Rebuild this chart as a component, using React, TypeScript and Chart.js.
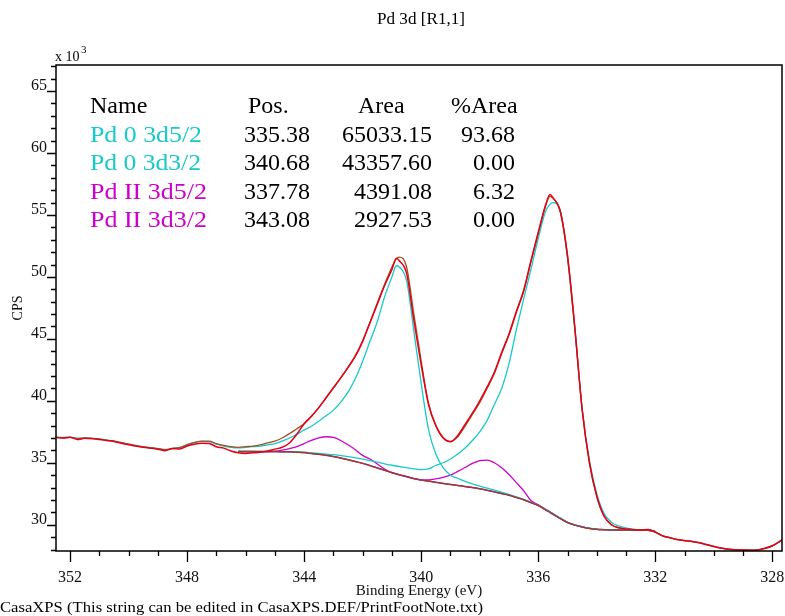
import React, { useEffect, useRef } from "react";
import { Chart, registerables } from "chart.js";

Chart.register(...registerables);

const SERIF = "'Liberation Serif', 'Times New Roman', serif";

// Binding energy grid (eV)
const bindingEnergy = [
  352.5, 352.25, 352, 351.75, 351.5, 351.25, 351, 350.75, 350.5, 350.25, 350, 349.75, 349.5, 349.25, 349, 348.75,
  348.5, 348.25, 348, 347.75, 347.5, 347.25, 347, 346.75, 346.5, 346.25, 346, 345.75, 345.5, 345.25, 345, 344.75,
  344.5, 344.25, 344, 343.75, 343.5, 343.25, 343, 342.75, 342.5, 342.25, 342, 341.75, 341.5, 341.25, 341, 340.85,
  340.75, 340.5, 340.25, 340, 339.75, 339.5, 339.25, 339, 338.75, 338.5, 338.25, 338, 337.75, 337.5, 337.25, 337,
  336.75, 336.5, 336.25, 336, 335.75, 335.6, 335.5, 335.25, 335, 334.75, 334.5, 334.25, 334, 333.75, 333.5, 333.25,
  333, 332.75, 332.5, 332.25, 332, 331.75, 331.5, 331.25, 331, 330.75, 330.5, 330.25, 330, 329.75, 329.5, 329.25,
  329, 328.75, 328.5, 328.25, 328, 327.75, 327.6,
];

// Measured spectrum (CPS x 10^3)
const measuredCps = [
  37.05, 37.0, 37.05, 36.88, 36.97, 36.95, 36.88, 36.8, 36.72, 36.58, 36.45, 36.35, 36.25, 36.18, 36.1, 35.98,
  36.15, 36.12, 36.35, 36.5, 36.58, 36.55, 36.3, 36.18, 35.95, 35.8, 35.75, 35.8, 35.85, 35.95, 36.1, 36.25,
  36.6, 37.3, 38.15, 38.75, 39.45, 40.25, 41.05, 41.85, 42.7, 43.6, 44.8, 46.3, 47.8, 49.3, 50.6, 51.5,
  51.3, 50.3, 46.5, 42.9, 39.7, 38.0, 37.0, 36.7, 37.2, 38.1, 39.0, 40.0, 41.1, 42.3, 43.9, 45.4,
  47.2, 48.9, 51.3, 53.6, 55.8, 56.65, 56.4, 55.3, 51.7, 45.9, 39.3, 35.0, 32.3, 30.7, 30.0, 29.75,
  29.65, 29.6, 29.58, 29.62, 29.4, 29.1, 28.95, 28.8, 28.72, 28.65, 28.55, 28.4, 28.25, 28.12, 28.02, 27.98,
  27.96, 27.94, 27.97, 28.1, 28.3, 28.65, 28.9,
];

// Fit envelope
const envelopeCps = [
  37.05, 37.02, 37.05, 36.95, 36.98, 36.95, 36.9, 36.82, 36.74, 36.62, 36.5, 36.38, 36.28, 36.2, 36.14, 36.05,
  36.15, 36.22, 36.45, 36.62, 36.75, 36.75, 36.55, 36.4, 36.3, 36.25, 36.3, 36.35, 36.45, 36.6, 36.75, 37.0,
  37.35, 37.75, 38.15, 38.75, 39.45, 40.25, 41.05, 41.85, 42.7, 43.65, 44.85, 46.35, 47.9, 49.4, 50.8, 51.45,
  51.6, 50.8, 47.0, 43.2, 39.8, 38.0, 37.05, 36.72, 37.1, 37.95, 38.9, 39.85, 41.0, 42.2, 43.8, 45.3,
  47.1, 48.8, 51.2, 53.5, 55.7, 56.5, 56.35, 55.3, 51.7, 45.9, 39.3, 35.0, 32.3, 30.7, 30.0, 29.75,
  29.65, 29.6, 29.58, 29.6, 29.4, 29.1, 28.95, 28.8, 28.72, 28.65, 28.55, 28.4, 28.25, 28.12, 28.02, 27.98,
  27.96, 27.94, 27.97, 28.1, 28.3, 28.65, 28.9,
];

// Pd 0 3d3/2 component (+ background), drawn over the full range
const pd0d32Cps = [
  37.08, 37.05, 37.07, 36.98, 37.0, 36.97, 36.92, 36.84, 36.76, 36.63, 36.5, 36.4, 36.3, 36.22, 36.15, 36.07,
  36.17, 36.24, 36.47, 36.65, 36.72, 36.7, 36.5, 36.35, 36.25, 36.2, 36.25, 36.3, 36.35, 36.45, 36.55, 36.75,
  37.0, 37.3, 37.65, 37.95, 38.35, 38.8, 39.25, 39.9, 40.7, 41.8, 43.2, 44.8, 46.4, 48.4, 50.0, 50.9,
  50.8, 49.7, 45.6, 41.4, 37.7, 35.7, 34.6, 34.0, 33.75, 33.5, 33.3, 33.12, 32.95, 32.8, 32.62, 32.45,
  32.25, 32.05, 31.8, 31.55, 31.25, 31.05, 30.9, 30.55, 30.2, 29.98, 29.83, 29.72, 29.64, 29.6, 29.58, 29.58,
  29.57, 29.57, 29.57, 29.57, 29.42, 29.1, 28.95, 28.8, 28.72, 28.65, 28.55, 28.4, 28.25, 28.12, 28.02, 27.98,
  27.96, 27.94, 27.97, 28.1, 28.3, 28.65, 28.9,
];

// Fit region (346.25 .. 332 eV)
const regionFrom = 346.25;
const regionTo = 332;

const pd0d52Cps = [
  35.95, 35.93, 35.93, 35.92, 35.91, 35.9, 35.9, 35.88, 35.87, 35.85, 35.8, 35.75, 35.7, 35.65, 35.58, 35.5,
  35.4, 35.3, 35.18, 35.05, 34.92, 34.8, 34.74, 34.7, 34.6, 34.5, 34.45, 34.5, 34.8, 35.0, 35.3, 35.7,
  36.2, 36.8, 37.5, 38.4, 39.7, 41.0, 43.0, 45.7, 48.2, 50.6, 53.1, 55.3, 55.85, 56.0, 55.4, 51.5,
  45.8, 39.4, 35.2, 32.5, 30.9, 30.2, 29.9, 29.75, 29.65, 29.6, 29.6, 29.45,
];

const pdIId32Cps = [
  35.9, 35.9, 35.9, 35.9, 35.9, 35.93, 36.02, 36.15, 36.3, 36.55, 36.8, 37.0, 37.1, 37.05, 36.8, 36.45,
  36.05, 35.6, 35.3, 34.9, 34.5, 34.2, 34.1, 34.05, 33.9, 33.74, 33.6, 33.52, 33.42, 33.33, 33.25, 33.17,
  33.08, 33.0, 32.9, 32.78, 32.65, 32.52, 32.38, 32.2, 32.02, 31.78, 31.55, 31.2, 31.0, 30.85, 30.5, 30.18,
  29.97, 29.82, 29.7, 29.63, 29.6, 29.58, 29.57, 29.57, 29.57, 29.57, 29.55, 29.45,
];

const pdIId52Cps = [
  35.9, 35.9, 35.9, 35.9, 35.9, 35.9, 35.89, 35.88, 35.85, 35.82, 35.75, 35.68, 35.6, 35.5, 35.38, 35.25,
  35.1, 34.95, 34.77, 34.58, 34.4, 34.2, 34.1, 34.03, 33.88, 33.72, 33.62, 33.62, 33.7, 33.82, 34.0, 34.3,
  34.62, 34.95, 35.18, 35.22, 35.0, 34.6, 34.05, 33.4, 32.75, 31.95, 31.6, 31.25, 31.05, 30.9, 30.52, 30.2,
  29.98, 29.83, 29.7, 29.63, 29.6, 29.58, 29.57, 29.57, 29.57, 29.57, 29.55, 29.45,
];

const backgroundCps = [
  35.9, 35.9, 35.9, 35.9, 35.9, 35.9, 35.89, 35.88, 35.85, 35.82, 35.75, 35.68, 35.6, 35.5, 35.38, 35.25,
  35.1, 34.95, 34.77, 34.58, 34.4, 34.2, 34.1, 34.03, 33.88, 33.72, 33.6, 33.52, 33.42, 33.33, 33.25, 33.17,
  33.08, 33.0, 32.9, 32.78, 32.65, 32.52, 32.38, 32.2, 32.02, 31.78, 31.55, 31.2, 31.0, 30.85, 30.5, 30.18,
  29.97, 29.82, 29.7, 29.63, 29.6, 29.58, 29.57, 29.57, 29.57, 29.57, 29.55, 29.45,
];

const xTickValues = [352, 348, 344, 340, 336, 332, 328];
const yTickValues = [30, 35, 40, 45, 50, 55, 60, 65];

const tableHeader = ["Name", "Pos.", "Area", "%Area"];
const componentNames = ["Pd 0 3d5/2", "Pd 0 3d3/2", "Pd II 3d5/2", "Pd II 3d3/2"];
const componentPos = ["335.38", "340.68", "337.78", "343.08"];
const componentArea = ["65033.15", "43357.60", "4391.08", "2927.53"];
const componentPct = ["93.68", "0.00", "6.32", "0.00"];

const CYAN = "rgb(25,200,200)";
const MAGENTA = "rgb(204,0,204)";
const RED = "rgb(228,0,22)";
const BROWN = "rgb(160,82,38)";
const BG_BROWN = "rgb(150,62,48)";
const componentColors = [CYAN, CYAN, MAGENTA, MAGENTA];
const nameWidths = [112, 111, 117, 117];

const titleText = "Pd 3d [R1,1]";
const footText = "CasaXPS (This string can be edited in CasaXPS.DEF/PrintFootNote.txt)";

function toPoints(xs: number[], ys: number[]) {
  return xs.map((x, i) => ({ x, y: ys[i] }));
}

function fillFitted(ctx: CanvasRenderingContext2D, text: string, x: number, y: number, width: number) {
  const w = ctx.measureText(text).width;
  ctx.save();
  ctx.translate(x, y);
  ctx.scale(width / w, 1);
  ctx.fillText(text, 0, 0);
  ctx.restore();
}

const decorations = {
  id: "casaDecor",
  afterDraw(chart: any) {
    const { ctx, chartArea, scales } = chart;
    const xs = scales.x;
    const ys = scales.y;
    ctx.save();
    // frame
    ctx.strokeStyle = "#000";
    ctx.lineWidth = 1.5;
    ctx.strokeRect(chartArea.left, chartArea.top, chartArea.right - chartArea.left, chartArea.bottom - chartArea.top);
    // y tick marks
    ctx.lineWidth = 1.3;
    ctx.beginPath();
    for (let v = Math.ceil(ys.min); v <= ys.max; v++) {
      const py = Math.round(ys.getPixelForValue(v)) + 0.5;
      const len = v % 5 === 0 ? 9 : 5;
      ctx.moveTo(chartArea.left, py);
      ctx.lineTo(chartArea.left - len, py);
    }
    // x tick marks
    for (let e = Math.ceil(xs.min); e <= xs.max; e++) {
      const px = Math.round(xs.getPixelForValue(e)) + 0.5;
      const len = e % 4 === 0 ? 11 : 5;
      ctx.moveTo(px, chartArea.bottom);
      ctx.lineTo(px, chartArea.bottom + len);
    }
    ctx.stroke();

    // title
    ctx.fillStyle = "#000";
    ctx.textBaseline = "alphabetic";
    ctx.textAlign = "left";
    ctx.font = `16px ${SERIF}`;
    fillFitted(ctx, titleText, 377, 24, 88);

    // x 10^3
    ctx.font = `14px ${SERIF}`;
    ctx.fillText("x 10", 55, 61);
    ctx.font = `11px ${SERIF}`;
    ctx.fillText("3", 81, 53);

    // table
    const rowsY = [113, 141.5, 170, 198.5, 227];
    ctx.font = `24px ${SERIF}`;
    ctx.fillStyle = "#000";
    ctx.textAlign = "left";
    ctx.fillText(tableHeader[0], 90, rowsY[0]);
    ctx.fillText(tableHeader[1], 248, rowsY[0]);
    ctx.fillText(tableHeader[2], 358, rowsY[0]);
    ctx.fillText(tableHeader[3], 451, rowsY[0]);
    componentNames.forEach((name, i) => {
      const y = rowsY[i + 1];
      ctx.textAlign = "left";
      ctx.fillStyle = componentColors[i];
      fillFitted(ctx, name, 90, y, nameWidths[i]);
      ctx.fillStyle = "#000";
      ctx.textAlign = "right";
      ctx.fillText(componentPos[i], 310, y);
      ctx.fillText(componentArea[i], 432, y);
      ctx.fillText(componentPct[i], 515, y);
    });

    // footnote
    ctx.textAlign = "left";
    ctx.fillStyle = "#000";
    ctx.font = `15px ${SERIF}`;
    fillFitted(ctx, footText, 0, 612, 483);
    ctx.restore();
  },
};

export default function App() {
  const canvasRef = useRef<HTMLCanvasElement | null>(null);

  useEffect(() => {
    const canvas = canvasRef.current;
    if (!canvas) return;
    const regionEnergy = bindingEnergy.slice(
      bindingEnergy.indexOf(regionFrom),
      bindingEnergy.indexOf(regionTo) + 1
    );
    const line = (label: string, xs: number[], ys: number[], color: string, width: number) => ({
      label,
      data: toPoints(xs, ys),
      borderColor: color,
      backgroundColor: color,
      borderWidth: width,
      pointRadius: 0,
      fill: false,
      cubicInterpolationMode: "monotone",
    });

    const chart = new Chart(canvas, {
      type: "line",
      data: {
        datasets: [
          line("Data", bindingEnergy, measuredCps, RED, 1.5),
          line("Envelope", bindingEnergy, envelopeCps, BROWN, 1.3),
          line("Background", regionEnergy, backgroundCps, BG_BROWN, 1.5),
          line("Pd 0 3d5/2", regionEnergy, pd0d52Cps, CYAN, 1.3),
          line("Pd 0 3d3/2", bindingEnergy, pd0d32Cps, CYAN, 1.3),
          line("Pd II 3d5/2", regionEnergy, pdIId52Cps, MAGENTA, 1.3),
          line("Pd II 3d3/2", regionEnergy, pdIId32Cps, MAGENTA, 1.3),
        ],
      },
      options: {
        responsive: false,
        animation: false,
        devicePixelRatio: 1,
        layout: { padding: { left: 0, right: 3, top: 65, bottom: 15 } },
        plugins: {
          legend: { display: false },
          tooltip: { enabled: false },
          title: { display: false },
        },
        scales: {
          x: {
            type: "linear",
            reverse: true,
            min: 327.67,
            max: 352.48,
            afterBuildTicks: (s: any) => {
              s.ticks = xTickValues.map((v) => ({ value: v }));
            },
            afterFit: (s: any) => {
              s.height = 50;
              s.paddingLeft = 0;
              s.paddingRight = 0;
            },
            grid: { display: false, drawTicks: false },
            border: { display: false },
            ticks: {
              autoSkip: false,
              maxRotation: 0,
              padding: 17,
              color: "#111",
              font: { family: SERIF, size: 16 },
              callback: (v: any) => String(v),
            },
            title: {
              display: true,
              text: "Binding Energy (eV)",
              color: "#111",
              font: { family: SERIF, size: 15 },
              padding: { top: 0, bottom: 1 },
            },
          },
          y: {
            type: "linear",
            min: 27.88,
            max: 67.1,
            afterBuildTicks: (s: any) => {
              s.ticks = yTickValues.map((v) => ({ value: v }));
            },
            afterFit: (s: any) => {
              s.width = 56;
              s.paddingTop = 0;
              s.paddingBottom = 0;
            },
            grid: { display: false, drawTicks: false },
            border: { display: false },
            ticks: {
              padding: 9,
              labelOffset: -5,
              color: "#111",
              font: { family: SERIF, size: 16 },
              callback: (v: any) => String(v),
            },
            title: {
              display: true,
              text: "CPS",
              color: "#111",
              font: { family: SERIF, size: 14 },
              padding: { top: 10, bottom: 0 },
            },
          },
        },
      },
      plugins: [decorations],
    } as any);

    return () => chart.destroy();
  }, []);

  return (
    <div style={{ position: "absolute", left: 0, top: 0, width: 785, height: 616, background: "#fff" }}>
      <canvas ref={canvasRef} width={785} height={616} style={{ display: "block", width: 785, height: 616 }} />
    </div>
  );
}
